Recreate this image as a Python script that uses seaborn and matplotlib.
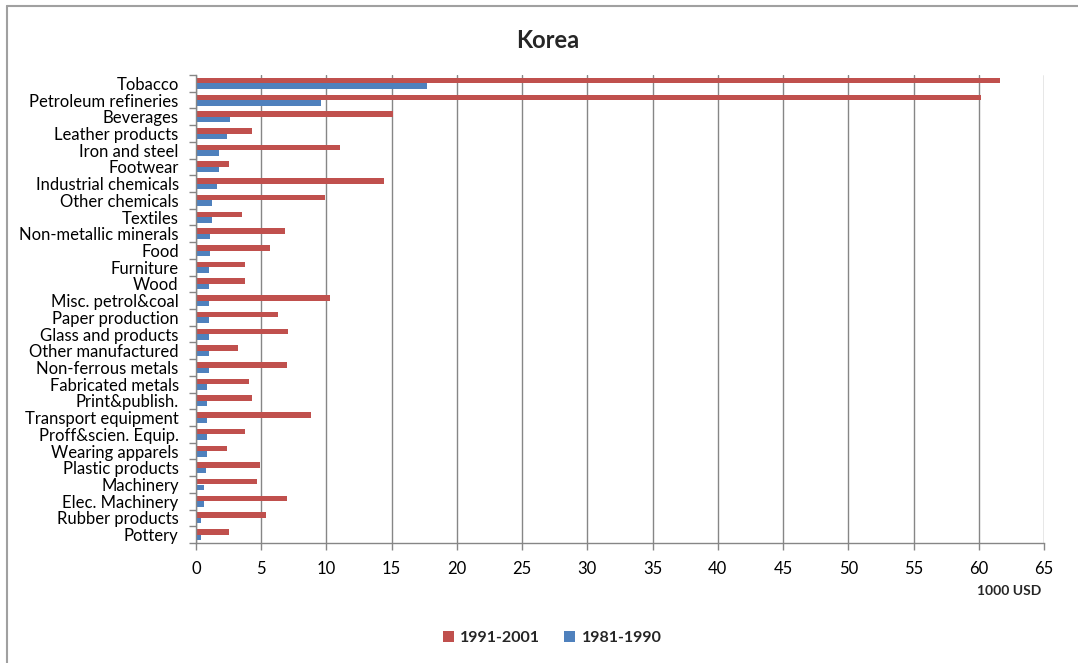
import matplotlib
matplotlib.use("Agg")
import matplotlib.pyplot as plt
from matplotlib.lines import Line2D
from matplotlib.patches import Patch
import pandas as pd
import seaborn as sns

industries = [
    "Tobacco", "Petroleum refineries", "Beverages", "Leather products",
    "Iron and steel", "Footwear", "Industrial chemicals", "Other chemicals",
    "Textiles", "Non-metallic minerals", "Food", "Furniture", "Wood",
    "Misc. petrol&coal", "Paper production", "Glass and products",
    "Other manufactured", "Non-ferrous metals", "Fabricated metals",
    "Print&publish.", "Transport equipment", "Proff&scien. Equip.",
    "Wearing apparels", "Plastic products", "Machinery", "Elec. Machinery",
    "Rubber products", "Pottery",
]
period_recent = "1991-2001"
period_early = "1981-1990"
values_recent = [
    61.6, 60.2, 15.1, 4.3, 11.0, 2.5, 14.4, 9.9, 3.5, 6.85, 5.7, 3.75, 3.75,
    10.3, 6.3, 7.05, 3.2, 6.95, 4.1, 4.3, 8.8, 3.75, 2.4, 4.9, 4.7, 6.95,
    5.35, 2.5,
]
values_early = [
    17.7, 9.6, 2.6, 2.4, 1.8, 1.8, 1.6, 1.2, 1.2, 1.1, 1.1, 1.0, 1.0,
    1.0, 1.0, 1.0, 1.0, 1.0, 0.87, 0.87, 0.87, 0.87, 0.87, 0.77, 0.64, 0.64,
    0.4, 0.4,
]
x_ticks = list(range(0, 70, 5))

df = pd.DataFrame({
    "industry": industries * 2,
    "period": [period_recent] * len(industries) + [period_early] * len(industries),
    "value": values_recent + values_early,
})

RED = "#C0504D"
BLUE = "#4F81BD"
GRID = "#868686"
FONT = ["Lato", "DejaVu Sans"]

sns.set_theme(style="white")
plt.rcParams["font.family"] = FONT

fig = plt.figure(figsize=(10.78, 6.63), dpi=100)
ax = fig.add_axes([196 / 1078, 1 - 543 / 663, 848 / 1078, 468 / 663])

sns.barplot(
    data=df, x="value", y="industry", hue="period",
    order=industries, hue_order=[period_recent, period_early],
    palette=[RED, BLUE], orient="h", width=0.66, saturation=1,
    linewidth=0, legend=False, ax=ax,
)

ax.set_xlim(0, 65)
ax.set_ylim(len(industries) - 0.5, -0.5)
ax.set_xticks(x_ticks)
ax.set_xticklabels([str(t) for t in x_ticks], fontsize=12, color="#000000")
ax.tick_params(axis="x", direction="out", length=5, width=1, color=GRID,
               pad=8, bottom=True)
ax.xaxis.grid(True, color=GRID, linewidth=1)
ax.set_axisbelow(True)

# category labels centred on each group, tick marks on group boundaries
ax.set_yticks(range(len(industries)))
ax.set_yticklabels(industries, fontsize=12, color="#000000")
ax.set_yticks([b - 0.5 for b in range(len(industries) + 1)], minor=True)
ax.tick_params(axis="y", which="major", length=0, pad=12.5, left=True)
ax.tick_params(axis="y", which="minor", direction="out", length=5, width=1,
               color=GRID, left=True)

for side in ("top", "right"):
    ax.spines[side].set_visible(False)
for side in ("left", "bottom"):
    ax.spines[side].set_color(GRID)
    ax.spines[side].set_linewidth(1)
ax.set_xlabel("")
ax.set_ylabel("")

fig.text(548 / 1078, 1 - 40 / 663, "Korea", ha="center", va="center",
         fontsize=17, fontweight="bold", family=FONT)
fig.text(1009 / 1078, 1 - 591 / 663, "1000 USD", ha="center", va="center",
         fontsize=10, fontweight="bold", family=FONT)

handles = [Patch(facecolor=RED, edgecolor="none"),
           Patch(facecolor=BLUE, edgecolor="none")]
fig.legend(handles, [period_recent, period_early], loc="center",
           bbox_to_anchor=(552 / 1078, 1 - 638 / 663), ncol=2, frameon=False,
           prop={"family": FONT, "weight": "bold", "size": 11.5},
           handlelength=0.7, handleheight=0.7, handletextpad=0.4,
           columnspacing=1.5)

# thin outer frame along the top and left edges
fig.add_artist(Line2D([7 / 1078, 1], [1 - 6 / 663, 1 - 6 / 663],
                      transform=fig.transFigure, color="#A0A0A0", lw=1.5))
fig.add_artist(Line2D([7 / 1078, 7 / 1078], [0, 1 - 6 / 663],
                      transform=fig.transFigure, color="#A0A0A0", lw=1.5))

fig.savefig("out.png", dpi=100, facecolor="white")
